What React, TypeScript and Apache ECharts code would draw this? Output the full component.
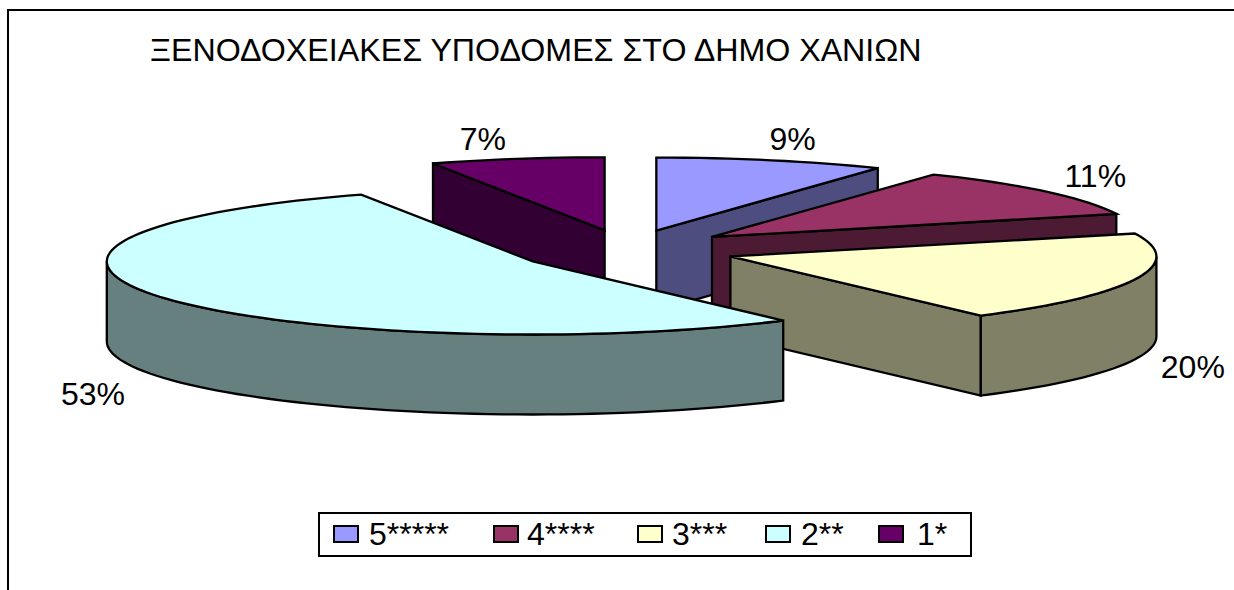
import React, { useEffect, useRef } from "react";
import * as echarts from "echarts";

const TITLE = "ΞΕΝΟΔΟΧΕΙΑΚΕΣ ΥΠΟΔΟΜΕΣ ΣΤΟ ΔΗΜΟ ΧΑΝΙΩΝ";
const categories = ["5*****", "4****", "3***", "2**", "1*"];
const values = [8.7, 11.2, 20.1, 53.4, 6.6];
const percentLabels = ["9%", "11%", "20%", "53%", "7%"];
const topColors = ["#9999FF", "#993366", "#FFFFCC", "#CCFFFF", "#660066"];
const sideColors = ["#4D4D80", "#4D1A33", "#808066", "#668080", "#330033"];
// back-to-front painting order of the slices
const paintOrder = [4, 0, 1, 2, 3];

const FONT = '"Liberation Sans", Arial, sans-serif';
const CX = 627;
const CY = 248.5;
const RX = 426;
const RY = 73;
const DEPTH = 80;
const EXPLODE = 0.255;
const FRONT_STRETCH = 1.4;
const LINE = 2.3;
const labelNudge = [
  [4, 3],
  [0, 0],
  [-4, 0],
  [-15, 3],
  [-21, 5],
];
const legendLefts = [333, 493, 637, 765, 878];
const legendTextPads = [6, 4, 5, 6, 9];

const rad = (d: number) => (d * Math.PI) / 180;
const total = values.reduce((a, b) => a + b, 0);
const angles = values.reduce<number[][]>((acc, v) => {
  const s = acc.length ? acc[acc.length - 1][1] : 0;
  acc.push([s, s + (v / total) * 360]);
  return acc;
}, []);

function sliceCentre(i: number) {
  const m = rad((angles[i][0] + angles[i][1]) / 2);
  const dy = -Math.cos(m) * EXPLODE * RY;
  return [
    CX + Math.sin(m) * EXPLODE * RX,
    CY + (dy > 0 ? dy * FRONT_STRETCH : dy),
  ];
}

function arc(c: number[], a0: number, a1: number, drop = 0) {
  const pts: number[][] = [];
  const n = Math.max(2, Math.ceil(Math.abs(a1 - a0) / 2));
  for (let k = 0; k <= n; k++) {
    const a = rad(a0 + ((a1 - a0) * k) / n);
    pts.push([c[0] + Math.sin(a) * RX, c[1] - Math.cos(a) * RY + drop]);
  }
  return pts;
}

function renderSlice(i: number) {
  return () => {
    const [a0, a1] = angles[i];
    const c = sliceCentre(i);
    const children: any[] = [];
    const stroke = { stroke: "#000", lineWidth: LINE, lineJoin: "miter" };
    const side = { ...stroke, fill: sideColors[i] };
    const radial = (a: number) => {
      const p = arc(c, a, a)[0];
      return [c, p, [p[0], p[1] + DEPTH], [c[0], c[1] + DEPTH]];
    };
    // radial walls that face the viewer
    if (Math.cos(rad(a0 - 90)) < -1e-6)
      children.push({ type: "polygon", shape: { points: radial(a0) }, style: side });
    if (Math.cos(rad(a1 + 90)) < -1e-6)
      children.push({ type: "polygon", shape: { points: radial(a1) }, style: side });
    // outer wall: the front half of the rim
    const f0 = Math.max(a0, 90);
    const f1 = Math.min(a1, 270);
    if (f1 > f0) {
      const topArc = arc(c, f0, f1);
      const lowArc = arc(c, f1, f0, DEPTH);
      children.push({ type: "polygon", shape: { points: [...topArc, ...lowArc] }, style: side });
    }
    // top face
    children.push({
      type: "polygon",
      shape: { points: [c, ...arc(c, a0, a1)] },
      style: { ...stroke, fill: topColors[i] },
    });
    // percentage label
    const m = rad((a0 + a1) / 2);
    const cos = Math.cos(m);
    const lx = c[0] + Math.sin(m) * RX * 1.15 + labelNudge[i][0];
    const ly = c[1] - cos * RY * 1.35 + (cos < 0 ? DEPTH : 0) + labelNudge[i][1];
    children.push({
      type: "text",
      style: {
        text: percentLabels[i],
        x: lx,
        y: ly,
        align: "center",
        verticalAlign: "middle",
        fill: "#000",
        font: `32px ${FONT}`,
      },
    });
    return { type: "group", children };
  };
}

export default function App() {
  const ref = useRef<HTMLDivElement>(null);
  useEffect(() => {
    const chart = echarts.init(ref.current!, null, { renderer: "svg" });
    chart.setOption({
      animation: false,
      backgroundColor: "#fff",
      title: {
        text: TITLE,
        left: 150,
        top: 34,
        padding: 0,
        textStyle: { fontFamily: FONT, fontSize: 32.2, fontWeight: "normal", color: "#000" },
      },
      legend: categories.map((name, i) => ({
        data: [name],
        left: legendLefts[i],
        top: 518,
        padding: 0,
        itemWidth: 24,
        itemHeight: 16,
        icon: "rect",
        selectedMode: false,
        itemStyle: { borderColor: "#000", borderWidth: 2 },
        textStyle: {
          fontFamily: FONT,
          fontSize: 32,
          color: "#000",
          padding: [0, 0, 0, legendTextPads[i]],
        },
      })),
      graphic: [
        {
          type: "polyline",
          shape: { points: [[8, 590], [8, 10], [1234, 10]] },
          style: { stroke: "#000", lineWidth: 2, fill: "none" },
          silent: true,
        },
        {
          type: "rect",
          shape: { x: 319, y: 513, width: 652, height: 43 },
          style: { stroke: "#000", lineWidth: 2, fill: "#fff" },
          silent: true,
          z: 0,
        },
      ],
      series: paintOrder.map((i, order) => ({
        type: "custom",
        name: categories[i],
        coordinateSystem: "none",
        silent: true,
        z: 2 + order,
        itemStyle: { color: topColors[i] },
        data: [[values[i]]],
        renderItem: renderSlice(i),
      })),
    });
    return () => chart.dispose();
  }, []);
  return (
    <div
      ref={ref}
      style={{ position: "fixed", left: 0, top: 0, width: 1234, height: 590 }}
    />
  );
}
